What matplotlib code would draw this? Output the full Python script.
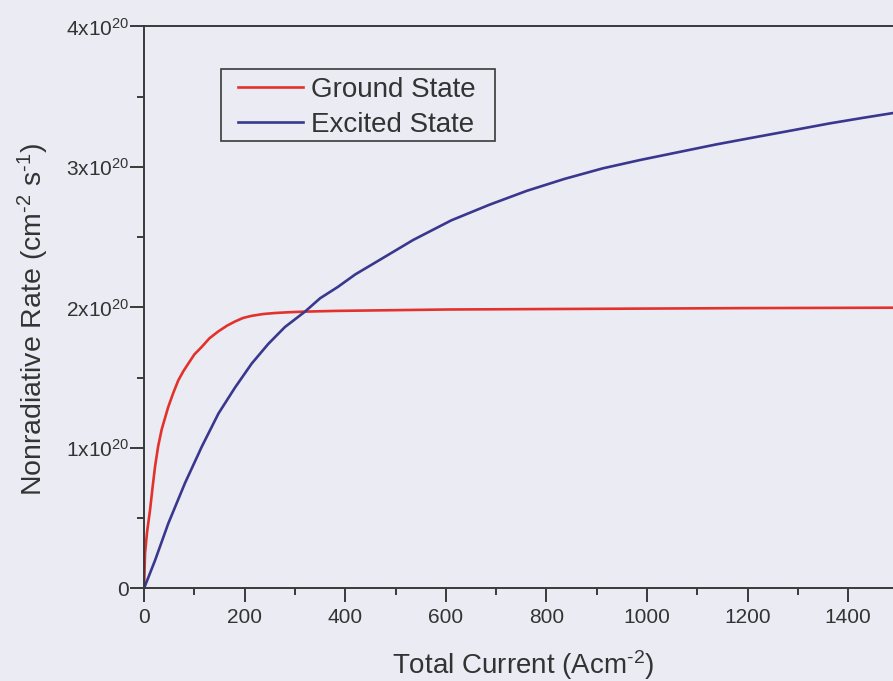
import numpy as np
import matplotlib
matplotlib.use('Agg')
import matplotlib.pyplot as plt
import matplotlib.patches as patches
from matplotlib.ticker import MultipleLocator, FixedLocator, FixedFormatter

# ----------------------------
# Dados (corrente em A/cm^2, taxa em 1e20 cm^-2 s^-1)
# ----------------------------
x_ground = [0, 2, 6, 12, 17, 22, 28, 35, 48, 58, 68, 78, 88, 100, 115, 130, 148, 165, 181, 197,
            214, 237, 260, 290, 320, 380, 600, 900, 1200, 1500]
y_ground = [0, 0.25, 0.40, 0.56, 0.72, 0.87, 1.01, 1.13, 1.29, 1.39, 1.48, 1.545, 1.60, 1.665,
            1.72, 1.78, 1.83, 1.87, 1.90, 1.925, 1.94, 1.953, 1.96, 1.966, 1.97, 1.975,
            1.985, 1.99, 1.995, 1.998]

x_excited = [0, 22, 48, 81.5, 115, 148, 181, 214, 247, 280, 320, 350, 385, 420, 460, 535, 611,
             686, 761, 836, 912, 987, 1062, 1137, 1212, 1288, 1363, 1430, 1500]
y_excited = [0, 0.20, 0.46, 0.75, 1.01, 1.245, 1.43, 1.60, 1.74, 1.86, 1.97, 2.065, 2.145, 2.235,
             2.32, 2.48, 2.62, 2.73, 2.83, 2.915, 2.99, 3.05, 3.105, 3.16, 3.21, 3.26, 3.31,
             3.35, 3.39]

ytick_vals = [0, 1, 2, 3, 4]
ytick_labels = ['0', '1x10$^{20}$', '2x10$^{20}$', '3x10$^{20}$', '4x10$^{20}$']

# ----------------------------
# Estilo
# ----------------------------
plt.rcParams['font.family'] = 'Liberation Sans'
plt.rcParams['mathtext.fontset'] = 'custom'
plt.rcParams['mathtext.rm'] = 'Liberation Sans'
plt.rcParams['mathtext.it'] = 'Liberation Sans'
plt.rcParams['mathtext.default'] = 'regular'

bg = '#ebebf4'
txt = '#333333'
ax_col = '#3a3a3a'

W, H = 893, 681
fig = plt.figure(figsize=(W / 100, H / 100), dpi=100, facecolor=bg)
ax = fig.add_axes([0.1613, 0.1361, 0.8387, 0.825])
ax.set_facecolor(bg)

ax.plot(x_ground, y_ground, color='#e3322c', lw=1.9, label='Ground State')
ax.plot(x_excited, y_excited, color='#3a378e', lw=1.9, label='Excited State')

ax.set_xlim(0, 1489)
ax.set_ylim(0, 4)

ax.xaxis.set_major_locator(MultipleLocator(200))
ax.xaxis.set_minor_locator(MultipleLocator(100))
ax.yaxis.set_major_locator(FixedLocator(ytick_vals))
ax.yaxis.set_major_formatter(FixedFormatter(ytick_labels))
ax.yaxis.set_minor_locator(MultipleLocator(0.5))

ax.tick_params(which='major', direction='out', length=10, width=1.4, color=ax_col,
               labelsize=15, labelcolor=txt, pad=4)
ax.tick_params(axis='y', which='major', pad=1)
ax.tick_params(which='minor', direction='out', length=5, width=1.4, color=ax_col)

for s in ['left', 'bottom', 'top']:
    ax.spines[s].set_color(ax_col)
    ax.spines[s].set_linewidth(1.4)
ax.spines['right'].set_visible(False)

ax.set_xlabel('Total Current (Acm$^{\u20102}$)', fontsize=20, color=txt)
ax.set_ylabel('Nonradiative Rate (cm$^{\u20102}$ s$^{\u20101}$)', fontsize=20.5, color=txt)
ax.xaxis.set_label_coords(0.506, -0.106)
ax.yaxis.set_label_coords(-0.124, 0.478)

# legenda sem moldura + moldura desenhada à parte
leg = ax.legend(loc='upper left', bbox_to_anchor=(238 / W, 1 - 77 / H), bbox_transform=fig.transFigure,
                fontsize=20, frameon=False,
                handlelength=2.34, handletextpad=0.3, labelspacing=0.32,
                borderpad=0, borderaxespad=0)
for t in leg.get_texts():
    t.set_color(txt)

box = patches.Rectangle((221 / W, 1 - 141 / H), (495 - 221) / W, 72 / H, transform=fig.transFigure,
                        fill=False, edgecolor=ax_col, linewidth=1.2, zorder=5)
fig.add_artist(box)

fig.savefig('out.png', dpi=100, facecolor=bg)
